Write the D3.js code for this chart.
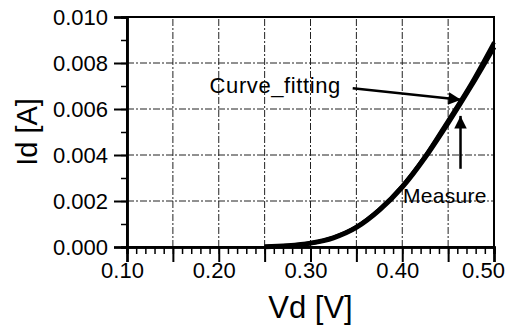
<!DOCTYPE html>
<html>
<head>
<meta charset="utf-8">
<script src="https://cdn.jsdelivr.net/npm/d3@7"></script>
<style>
  body { margin: 0; background: #fff; }
  svg { display: block; font-family: "Liberation Sans", Arial, sans-serif; }
</style>
</head>
<body>
<svg id="chart" width="509" height="325"></svg>
<script>
// values
const vd = [0.25, 0.275, 0.30, 0.325, 0.35, 0.375, 0.40, 0.425, 0.45, 0.475, 0.50]
const measured = [0.00001, 0.00006, 0.00017, 0.0004, 0.00085, 0.0016, 0.0026, 0.0039, 0.0054, 0.0070, 0.0087]
const fitted = [0.0, 0.00005, 0.00016, 0.00041, 0.00087, 0.00163, 0.00265, 0.00395, 0.0055, 0.0071, 0.0089]
const xTicks = [0.10, 0.15, 0.20, 0.25, 0.30, 0.35, 0.40, 0.45, 0.50]
const yTicks = [0.000, 0.002, 0.004, 0.006, 0.008, 0.010]

const width = 509
const height = 325
const margin = { top: 17, right: 15, bottom: 78, left: 127 }

const svg = d3.select('#chart')

const x = d3.scaleLinear().domain([0.10, 0.50]).range([margin.left, width - margin.right])
const y = d3.scaleLinear().domain([0, 0.010]).range([height - margin.bottom, margin.top])

const xMinor = d3.range(10, 51).map(d => d / 100)
const yMinor = d3.range(0, 11).map(d => d / 1000)

// grid
const grid = svg.append('g')
  .attr('stroke', '#222')
  .attr('stroke-width', 1)
  .attr('stroke-dasharray', '7,2,2,2')
grid.selectAll('line.h')
  .data(yTicks.slice(1, -1))
  .join('line')
  .attr('x1', x.range()[0]).attr('x2', x.range()[1])
  .attr('y1', d => y(d)).attr('y2', d => y(d))
grid.selectAll('line.v')
  .data(xTicks.slice(1, -1))
  .join('line')
  .attr('class', 'v')
  .attr('y1', y.range()[0]).attr('y2', y.range()[1])
  .attr('x1', d => x(d)).attr('x2', d => x(d))

// frame
svg.append('rect')
  .attr('x', x.range()[0])
  .attr('y', y.range()[1])
  .attr('width', x.range()[1] - x.range()[0])
  .attr('height', y.range()[0] - y.range()[1])
  .attr('fill', 'none')
  .attr('stroke', '#000')
  .attr('stroke-width', 2)

const styleAxis = g => {
  g.select('.domain').attr('stroke', '#000').attr('stroke-width', 2.5)
  g.selectAll('.tick line').attr('stroke', '#000').attr('stroke-width', 2)
  g.selectAll('.tick text').attr('fill', '#000').attr('font-size', 22)
}

// minor ticks
svg.append('g')
  .attr('transform', `translate(0,${y.range()[0]})`)
  .call(d3.axisBottom(x).tickValues(xMinor).tickSize(7).tickFormat(''))
  .call(styleAxis)
  .call(g => g.selectAll('.tick line').attr('stroke-width', 1.5))
svg.append('g')
  .attr('transform', `translate(${x.range()[0]},0)`)
  .call(d3.axisLeft(y).tickValues(yMinor).tickSize(6).tickFormat(''))
  .call(styleAxis)
  .call(g => g.selectAll('.tick line').attr('stroke-width', 1.5))

// major ticks
svg.append('g')
  .attr('transform', `translate(0,${y.range()[0]})`)
  .call(d3.axisBottom(x).tickValues(xTicks).tickSize(15).tickPadding(0)
    .tickFormat(d => Math.round(d * 100) % 10 === 0 ? d3.format('.2f')(d) : ''))
  .call(styleAxis)
  .call(g => g.selectAll('.tick text').attr('dx', (d, i, n) => i === n.length - 1 ? -11 : -5))
svg.append('g')
  .attr('transform', `translate(${x.range()[0]},0)`)
  .call(d3.axisLeft(y).tickValues(yTicks).tickSize(13).tickPadding(6).tickFormat(d3.format('.3f')))
  .call(styleAxis)

// curves
const line = d3.line().x(d => x(d[0])).y(d => y(d[1])).curve(d3.curveMonotoneX)
svg.append('path')
  .datum(d3.zip(vd, measured))
  .attr('fill', 'none')
  .attr('stroke', '#000')
  .attr('stroke-width', 5)
  .attr('d', line)
svg.append('path')
  .datum(d3.zip(vd, fitted))
  .attr('fill', 'none')
  .attr('stroke', '#000')
  .attr('stroke-width', 4)
  .attr('d', line)

// annotations
svg.append('defs').append('marker')
  .attr('id', 'head')
  .attr('viewBox', '0 0 10 10')
  .attr('refX', 10).attr('refY', 5)
  .attr('markerWidth', 6).attr('markerHeight', 5)
  .attr('orient', 'auto-start-reverse')
  .append('path')
  .attr('d', 'M0,0L10,5L0,10z')
  .attr('fill', '#000')

svg.append('text')
  .attr('x', x(0.19)).attr('y', y(0.0067))
  .attr('font-size', 22)
  .attr('letter-spacing', 0.6)
  .text('Curve_fitting')
svg.append('line')
  .attr('x1', x(0.346)).attr('y1', y(0.0069))
  .attr('x2', x(0.464)).attr('y2', y(0.0064))
  .attr('stroke', '#000').attr('stroke-width', 2.5)
  .attr('marker-end', 'url(#head)')

svg.append('text')
  .attr('x', x(0.4008)).attr('y', y(0.0019))
  .attr('font-size', 21)
  .attr('letter-spacing', 0.3)
  .text('Measure')
svg.append('line')
  .attr('x1', x(0.4635)).attr('y1', y(0.0034))
  .attr('x2', x(0.4635)).attr('y2', y(0.0057))
  .attr('stroke', '#000').attr('stroke-width', 2.5)
  .attr('marker-end', 'url(#head)')

// axis titles
svg.append('text')
  .attr('x', (x.range()[0] + x.range()[1]) / 2)
  .attr('y', height - 7)
  .attr('text-anchor', 'middle')
  .attr('font-size', 31)
  .text('Vd [V]')
svg.append('text')
  .attr('transform', `translate(37,${(y.range()[0] + y.range()[1]) / 2}) rotate(-90)`)
  .attr('text-anchor', 'middle')
  .attr('font-size', 29)
  .text('Id [A]')
</script>
</body>
</html>
